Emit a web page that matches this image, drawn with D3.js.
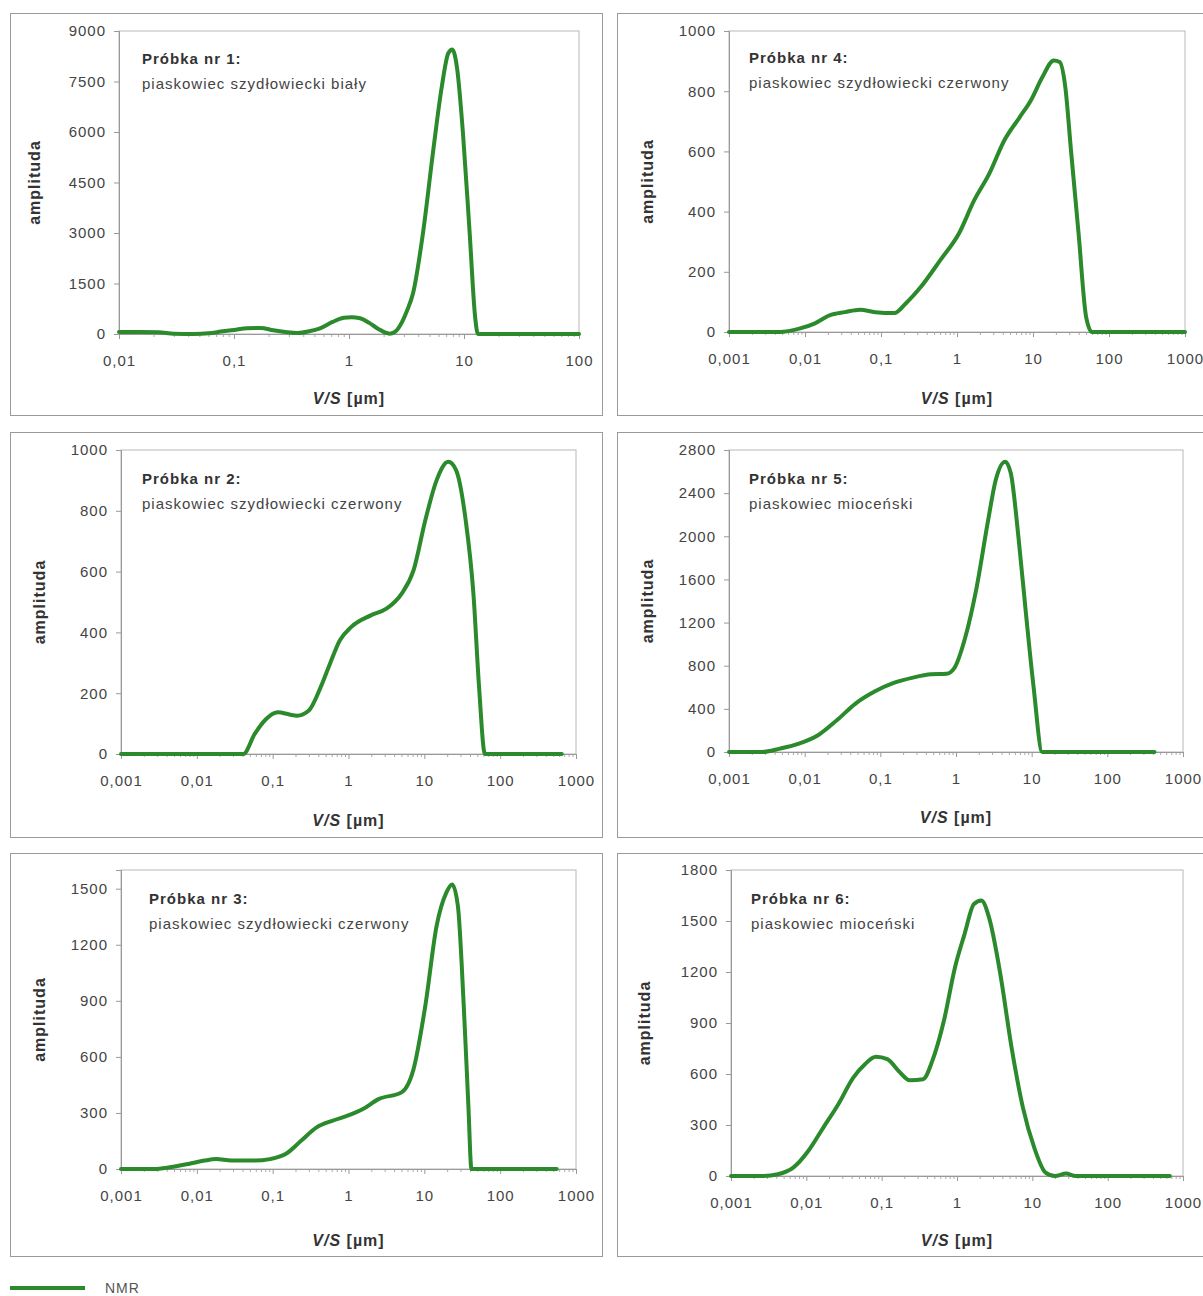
<!DOCTYPE html>
<html>
<head>
<meta charset="utf-8">
<title>NMR - rozkład V/S</title>
<script src="https://d3js.org/d3.v7.min.js"></script>
<style>
body { margin: 0; background: #fff; font-family: Arial, 'Liberation Sans', sans-serif; }
.tick text { fill: #444; font-size: 15px; letter-spacing: 1px; font-family: Arial, 'Liberation Sans', sans-serif; }
</style>
</head>
<body>
<svg id="chart" width="1203" height="1296"></svg>
<script>
// dane: V/S [um] i amplituda
var vs1 = [0.01, 0.015, 0.022, 0.03, 0.045, 0.06, 0.08, 0.1, 0.13, 0.17, 0.22, 0.28, 0.36, 0.45, 0.56, 0.72, 0.9, 1.05, 1.25, 1.5, 1.8, 2.25, 2.5, 2.8, 3.2, 3.6, 4.4, 5.4, 6.4, 7.3, 7.9, 8.7, 9.8, 11.2, 12.5, 13.2, 20, 50, 100];
var amp1 = [60, 60, 50, 10, 0, 20, 80, 120, 170, 180, 110, 60, 30, 80, 170, 360, 480, 500, 470, 330, 150, 10, 60, 270, 700, 1200, 3000, 5450, 7330, 8340, 8450, 7900, 5950, 3000, 500, 0, 0, 0, 0];

var vs2 = [0.001, 0.041, 0.058, 0.082, 0.117, 0.166, 0.21, 0.3, 0.43, 0.57, 0.77, 1.09, 1.97, 3.16, 5.0, 7.2, 10.3, 14.5, 20.7, 26.2, 35.1, 44.4, 52.7, 63, 650];
var amp2 = [0, 0, 66, 115, 137, 130, 126, 143, 220, 297, 374, 418, 456, 478, 527, 604, 769, 900, 961, 934, 769, 527, 220, 0, 0];

var vs3 = [0.001, 0.0027, 0.0044, 0.0078, 0.0126, 0.018, 0.0286, 0.058, 0.092, 0.148, 0.237, 0.38, 0.61, 0.97, 1.55, 2.49, 5.0, 7.2, 10.3, 14.5, 19.5, 23.3, 27.7, 33.1, 38.1, 41.8, 557];
var amp3 = [0, 0, 9, 27, 45, 53, 45, 45, 53, 80, 151, 223, 258, 285, 321, 374, 410, 534, 873, 1300, 1479, 1523, 1407, 873, 338, 0, 0];

var vs4 = [0.001, 0.0047, 0.0084, 0.0133, 0.021, 0.0335, 0.053, 0.084, 0.15, 0.21, 0.335, 0.6, 1.06, 1.68, 2.66, 4.2, 6.7, 9.4, 13.3, 18.8, 22.4, 26.6, 31.6, 39.8, 50, 59.6, 1000];
var amp4 = [0, 0, 11, 28, 55, 66, 74, 66, 63, 94, 150, 238, 327, 437, 526, 637, 714, 770, 847, 902, 897, 814, 604, 327, 50, 0, 0];

var vs5 = [0.001, 0.0027, 0.0047, 0.0084, 0.015, 0.0266, 0.047, 0.084, 0.15, 0.27, 0.47, 0.75, 0.94, 1.33, 1.88, 2.66, 3.35, 4.47, 5.3, 6.68, 8.4, 10.6, 13.8, 420];
var amp5 = [0, 0, 31, 77, 155, 294, 449, 560, 640, 690, 720, 725, 773, 1067, 1532, 2150, 2522, 2692, 2584, 1996, 1284, 603, 0, 0];

var vs6 = [0.001, 0.0027, 0.0042, 0.0067, 0.0106, 0.0168, 0.0266, 0.042, 0.06, 0.084, 0.119, 0.168, 0.237, 0.355, 0.47, 0.67, 0.94, 1.26, 1.68, 2.11, 2.66, 3.76, 5.3, 7.5, 10.6, 15, 20, 28, 37.6, 670];
var amp6 = [0, 0, 10, 49, 147, 285, 422, 579, 658, 701, 687, 618, 563, 569, 677, 913, 1227, 1423, 1600, 1620, 1521, 1188, 756, 402, 167, 20, 0, 14, 0, 0];

// opisy próbek
var titles = ["Próbka nr 1:", "Próbka nr 2:", "Próbka nr 3:", "Próbka nr 4:", "Próbka nr 5:", "Próbka nr 6:"];
var rocks = ["piaskowiec szydłowiecki biały", "piaskowiec szydłowiecki czerwony", "piaskowiec szydłowiecki czerwony",
             "piaskowiec szydłowiecki czerwony", "piaskowiec mioceński", "piaskowiec mioceński"];

// osie
var xTicksShort = [0.01, 0.1, 1, 10, 100];
var xTicksLong = [0.001, 0.01, 0.1, 1, 10, 100, 1000];
var yTicks1 = [0, 1500, 3000, 4500, 6000, 7500, 9000];
var yTicks2 = [0, 200, 400, 600, 800, 1000];
var yTicks3 = [0, 300, 600, 900, 1200, 1500];
var yTicks4 = [0, 200, 400, 600, 800, 1000];
var yTicks5 = [0, 400, 800, 1200, 1600, 2000, 2400, 2800];
var yTicks6 = [0, 300, 600, 900, 1200, 1500, 1800];
var yMax = [9000, 1000, 1600, 1000, 2800, 1800];
var legendLabel = "NMR";

var green = "#2b8a2b";

// układ paneli (ramka, obszar wykresu, położenie opisów)
var panels = [
  {vs: vs1, amp: amp1, xt: xTicksShort, yt: yTicks1, box: [10, 13, 592, 402], l: 119, r: 579, t: 31, b: 334, ttl: [142, 64], lab: 35, xl: 404},
  {vs: vs2, amp: amp2, xt: xTicksLong, yt: yTicks2, box: [10, 432, 592, 405], l: 121, r: 576, t: 450, b: 754, ttl: [142, 484], lab: 40, xl: 826},
  {vs: vs3, amp: amp3, xt: xTicksLong, yt: yTicks3, box: [10, 853, 592, 403], l: 121, r: 576, t: 870, b: 1169, ttl: [149, 904], lab: 40, xl: 1246},
  {vs: vs4, amp: amp4, xt: xTicksLong, yt: yTicks4, box: [617, 13, 620, 402], l: 729, r: 1185, t: 31, b: 332, ttl: [749, 63], lab: 648, xl: 404},
  {vs: vs5, amp: amp5, xt: xTicksLong, yt: yTicks5, box: [617, 432, 620, 405], l: 729, r: 1183, t: 450, b: 752, ttl: [749, 484], lab: 648, xl: 823},
  {vs: vs6, amp: amp6, xt: xTicksLong, yt: yTicks6, box: [617, 853, 620, 403], l: 731, r: 1183, t: 870, b: 1176, ttl: [751, 904], lab: 645, xl: 1246}
];

var svg = d3.select("#chart");
svg.append("rect").attr("width", 1203).attr("height", 1296).attr("fill", "#fff");

var fmt = function(d) { return String(d).replace(".", ","); };

panels.forEach(function(p, i) {
  var g = svg.append("g");

  g.append("rect")
    .attr("x", p.box[0] + 0.5).attr("y", p.box[1] + 0.5)
    .attr("width", p.box[2]).attr("height", p.box[3])
    .attr("fill", "none").attr("stroke", "#9a9a9a").attr("stroke-width", 1);

  var x = d3.scaleLog().domain([p.xt[0], p.xt[p.xt.length - 1]]).range([p.l, p.r]);
  var y = d3.scaleLinear().domain([0, yMax[i]]).range([p.b, p.t]);

  // obszar wykresu
  g.append("rect")
    .attr("x", p.l).attr("y", p.t).attr("width", p.r - p.l).attr("height", p.b - p.t)
    .attr("fill", "none").attr("stroke", "#b8b8b8").attr("stroke-width", 1);

  var yAxis = g.append("g").attr("transform", "translate(" + p.l + ",0)")
    .call(d3.axisLeft(y).tickValues(p.yt).tickSize(5).tickPadding(8).tickFormat(fmt));
  yAxis.select(".domain").attr("stroke", "#999");
  yAxis.selectAll(".tick line").attr("stroke", "#999");

  // drobne podziałki logarytmiczne
  var minor = [];
  for (var k = 0; k < p.xt.length - 1; k++) {
    for (var m = 2; m < 10; m++) minor.push(p.xt[k] * m);
  }
  var xMinor = g.append("g").attr("transform", "translate(0," + p.b + ")")
    .call(d3.axisBottom(x).tickValues(minor).tickSize(3).tickFormat(""));
  xMinor.select(".domain").remove();
  xMinor.selectAll(".tick line").attr("stroke", "#aaa");

  var xAxis = g.append("g").attr("transform", "translate(0," + p.b + ")")
    .call(d3.axisBottom(x).tickValues(p.xt).tickSize(5).tickPadding(16).tickFormat(fmt));
  xAxis.select(".domain").attr("stroke", "#999");
  xAxis.selectAll(".tick line").attr("stroke", "#999");

  // krzywa NMR
  var pts = p.vs.map(function(v, j) { return [v, p.amp[j]]; });
  var line = d3.line()
    .x(function(d) { return x(d[0]); })
    .y(function(d) { return y(d[1]); })
    .curve(d3.curveMonotoneX);
  g.append("path").datum(pts)
    .attr("d", line)
    .attr("fill", "none").attr("stroke", green).attr("stroke-width", 4)
    .attr("stroke-linejoin", "round").attr("stroke-linecap", "round");

  // opisy
  g.append("text").attr("x", p.ttl[0]).attr("y", p.ttl[1])
    .attr("font-size", 15).attr("letter-spacing", 1).attr("font-weight", "bold").attr("fill", "#333")
    .text(titles[i]);
  g.append("text").attr("x", p.ttl[0]).attr("y", p.ttl[1] + 25)
    .attr("font-size", 15).attr("letter-spacing", 1).attr("fill", "#444")
    .text(rocks[i]);

  g.append("text")
    .attr("transform", "translate(" + (p.lab + 5) + "," + ((p.t + p.b) / 2) + ") rotate(-90)")
    .attr("text-anchor", "middle").attr("font-size", 16).attr("letter-spacing", 1)
    .attr("font-weight", "bold").attr("fill", "#333")
    .text("amplituda");

  var xl = g.append("text").attr("x", (p.l + p.r) / 2).attr("y", p.xl)
    .attr("text-anchor", "middle").attr("font-size", 16).attr("letter-spacing", 1)
    .attr("font-weight", "bold").attr("fill", "#333");
  xl.append("tspan").attr("font-style", "italic").text("V/S");
  xl.append("tspan").text(" [µm]");
});

// legenda
var lg = svg.append("g");
lg.append("line").attr("x1", 10).attr("x2", 85).attr("y1", 1288).attr("y2", 1288)
  .attr("stroke", green).attr("stroke-width", 4);
lg.append("text").attr("x", 105).attr("y", 1289).attr("dominant-baseline", "middle")
  .attr("font-size", 14).attr("letter-spacing", 1).attr("fill", "#555")
  .text(legendLabel);
</script>
</body>
</html>
